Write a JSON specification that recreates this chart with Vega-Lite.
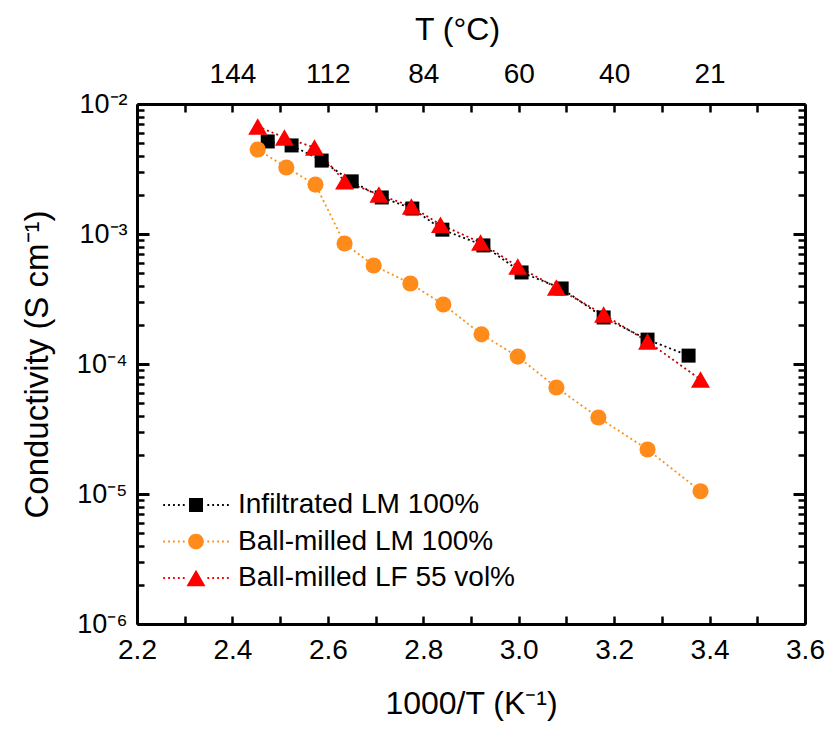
{
  "$schema": "https://vega.github.io/schema/vega-lite/v6.json",
  "width": 668,
  "height": 520,
  "autosize": {"type": "none"},
  "padding": {"left": 137, "top": 104, "right": 28, "bottom": 109},
  "background": "white",
  "config": {
    "view": {"stroke": null},
    "font": "Liberation Sans",
    "axis": {"grid": false, "labelColor": "#000", "titleColor": "#000", "tickColor": "#000", "domainColor": "#000", "titleFontWeight": "normal", "labelFont": "Liberation Sans", "titleFont": "Liberation Sans", "labelOverlap": false, "labelFlush": false}
  },
  "data": {"values": [
    {"s": "Infiltrated LM 100%", "x": 2.474, "y": 5.15e-3},
    {"s": "Infiltrated LM 100%", "x": 2.524, "y": 4.8e-3},
    {"s": "Infiltrated LM 100%", "x": 2.587, "y": 3.67e-3},
    {"s": "Infiltrated LM 100%", "x": 2.650, "y": 2.54e-3},
    {"s": "Infiltrated LM 100%", "x": 2.713, "y": 1.91e-3},
    {"s": "Infiltrated LM 100%", "x": 2.777, "y": 1.57e-3},
    {"s": "Infiltrated LM 100%", "x": 2.840, "y": 1.08e-3},
    {"s": "Infiltrated LM 100%", "x": 2.926, "y": 8.17e-4},
    {"s": "Infiltrated LM 100%", "x": 3.006, "y": 5.06e-4},
    {"s": "Infiltrated LM 100%", "x": 3.090, "y": 3.81e-4},
    {"s": "Infiltrated LM 100%", "x": 3.178, "y": 2.28e-4},
    {"s": "Infiltrated LM 100%", "x": 3.270, "y": 1.54e-4},
    {"s": "Infiltrated LM 100%", "x": 3.356, "y": 1.16e-4},
    {"s": "Ball-milled LM 100%", "x": 2.453, "y": 4.47e-3},
    {"s": "Ball-milled LM 100%", "x": 2.513, "y": 3.25e-3},
    {"s": "Ball-milled LM 100%", "x": 2.574, "y": 2.40e-3},
    {"s": "Ball-milled LM 100%", "x": 2.635, "y": 8.45e-4},
    {"s": "Ball-milled LM 100%", "x": 2.696, "y": 5.73e-4},
    {"s": "Ball-milled LM 100%", "x": 2.773, "y": 4.16e-4},
    {"s": "Ball-milled LM 100%", "x": 2.842, "y": 2.87e-4},
    {"s": "Ball-milled LM 100%", "x": 2.922, "y": 1.69e-4},
    {"s": "Ball-milled LM 100%", "x": 2.998, "y": 1.14e-4},
    {"s": "Ball-milled LM 100%", "x": 3.079, "y": 6.6e-5},
    {"s": "Ball-milled LM 100%", "x": 3.167, "y": 3.88e-5},
    {"s": "Ball-milled LM 100%", "x": 3.270, "y": 2.20e-5},
    {"s": "Ball-milled LM 100%", "x": 3.381, "y": 1.05e-5},
    {"s": "Ball-milled LF 55 vol%", "x": 2.453, "y": 6.71e-3},
    {"s": "Ball-milled LF 55 vol%", "x": 2.509, "y": 5.52e-3},
    {"s": "Ball-milled LF 55 vol%", "x": 2.572, "y": 4.63e-3},
    {"s": "Ball-milled LF 55 vol%", "x": 2.635, "y": 2.54e-3},
    {"s": "Ball-milled LF 55 vol%", "x": 2.707, "y": 2.01e-3},
    {"s": "Ball-milled LF 55 vol%", "x": 2.775, "y": 1.63e-3},
    {"s": "Ball-milled LF 55 vol%", "x": 2.836, "y": 1.18e-3},
    {"s": "Ball-milled LF 55 vol%", "x": 2.920, "y": 8.6e-4},
    {"s": "Ball-milled LF 55 vol%", "x": 2.998, "y": 5.62e-4},
    {"s": "Ball-milled LF 55 vol%", "x": 3.079, "y": 3.87e-4},
    {"s": "Ball-milled LF 55 vol%", "x": 3.178, "y": 2.40e-4},
    {"s": "Ball-milled LF 55 vol%", "x": 3.270, "y": 1.49e-4},
    {"s": "Ball-milled LF 55 vol%", "x": 3.381, "y": 7.6e-5}
  ]},
  "resolve": {"scale": {"x": "shared", "y": "shared"}, "axis": {"x": "independent", "y": "independent"}},
  "layer": [
    {
      "mark": {"type": "line", "strokeDash": [2, 3], "strokeWidth": 1.8},
      "encoding": {
        "x": {"field": "x", "type": "quantitative", "scale": {"domain": [2.2, 3.6], "nice": false, "zero": false},
          "axis": {"orient": "bottom", "values": [2.2,2.3,2.4,2.5,2.6,2.7,2.8,2.9,3.0,3.1,3.2,3.3,3.4,3.5,3.6],
            "labelExpr": "round(datum.value*10) % 2 == 0 ? format(datum.value, '.1f') : ''",
            "tickSize": -8, "tickWidth": 2.5, "domainWidth": 3, "labelFontSize": 28, "labelPadding": 20,
            "title": "1000/T (K⁻¹)", "titleFontSize": 32, "titlePadding": 24}},
        "y": {"field": "y", "type": "quantitative", "scale": {"type": "log", "domain": [1e-6, 1e-2], "nice": false},
          "axis": {"orient": "left", "values": [1e-6, 1e-5, 1e-4, 1e-3, 1e-2],
            "labelExpr": "datum.value == 0.01 ? '10⁻²' : datum.value == 0.001 ? '10⁻³' : datum.value == 0.0001 ? '10⁻⁴' : datum.value == 0.00001 ? '10⁻⁵' : '10⁻⁶'",
            "tickSize": -12, "tickWidth": 3, "domainWidth": 3, "labelFontSize": 27, "labelPadding": 22,
            "title": "Conductivity (S cm⁻¹)", "titleFontSize": 33, "titlePadding": 22}},
        "stroke": {"field": "s", "type": "nominal",
          "scale": {"domain": ["Infiltrated LM 100%", "Ball-milled LM 100%", "Ball-milled LF 55 vol%"], "range": ["#000000", "#f7931e", "#c00000"]},
          "legend": {"title": null, "orient": "none", "legendX": 45, "legendY": 387, "padding": 0,
            "symbolSize": 196, "symbolStrokeWidth": 0, "symbolOpacity": 1, "labelFontSize": 28, "labelFont": "Liberation Sans", "labelColor": "#000",
            "labelOffset": 28, "rowPadding": 8.5, "labelLimit": 400}}
      }
    },
    {
      "transform": [{"filter": "datum.s === 'Infiltrated LM 100%'"}],
      "mark": {"type": "point", "filled": true, "opacity": 1, "strokeWidth": 0, "shape": "square", "size": 196, "color": "#000000"},
      "encoding": {
        "x": {"field": "x", "type": "quantitative",
          "axis": {"orient": "top", "values": [2.2,2.3,2.4,2.5,2.6,2.7,2.8,2.9,3.0,3.1,3.2,3.3,3.4,3.5,3.6],
            "labelExpr": "round(datum.value*10) == 24 ? '144' : round(datum.value*10) == 26 ? '112' : round(datum.value*10) == 28 ? '84' : round(datum.value*10) == 30 ? '60' : round(datum.value*10) == 32 ? '40' : round(datum.value*10) == 34 ? '21' : ''",
            "tickSize": -8, "tickWidth": 2.5, "domainWidth": 3, "labelFontSize": 28, "labelPadding": 24,
            "title": "T (°C)", "titleFontSize": 32, "titlePadding": 14, "titleX": 320}},
        "y": {"field": "y", "type": "quantitative",
          "axis": {"orient": "right", "values": [1e-6, 1e-5, 1e-4, 1e-3, 1e-2], "labels": false,
            "tickSize": -12, "tickWidth": 3, "domainWidth": 3, "title": null}}
      }
    },
    {
      "transform": [{"filter": "datum.s === 'Ball-milled LM 100%'"}],
      "mark": {"type": "point", "filled": true, "opacity": 1, "strokeWidth": 0, "shape": "circle", "size": 260, "color": "#ff8c1a"},
      "encoding": {
        "x": {"field": "x", "type": "quantitative", "axis": null},
        "y": {"field": "y", "type": "quantitative", "axis": null}
      }
    },
    {
      "transform": [{"filter": "datum.s === 'Ball-milled LF 55 vol%'"}],
      "mark": {"type": "point", "filled": true, "opacity": 1, "strokeWidth": 0, "shape": "triangle-up", "size": 361, "color": "#ff0000"},
      "encoding": {
        "x": {"field": "x", "type": "quantitative", "axis": null},
        "y": {"field": "y", "type": "quantitative", "axis": null}
      }
    },
    {
      "transform": [{"filter": "false"}],
      "mark": {"type": "point", "filled": true, "opacity": 1, "strokeWidth": 0},
      "encoding": {
        "x": {"field": "x", "type": "quantitative", "axis": null},
        "y": {"field": "y", "type": "quantitative", "axis": null},
        "color": {"field": "s", "type": "nominal",
          "scale": {"domain": ["Infiltrated LM 100%", "Ball-milled LM 100%", "Ball-milled LF 55 vol%"], "range": ["#000000", "#ff8c1a", "#ff0000"]}},
        "shape": {"field": "s", "type": "nominal",
          "scale": {"domain": ["Infiltrated LM 100%", "Ball-milled LM 100%", "Ball-milled LF 55 vol%"],
            "range": [
              "M-1,-1H1V1H-1ZM-4.68,-0.13h0.26v0.26h-0.26ZM-3.98,-0.13h0.26v0.26h-0.26ZM-3.28,-0.13h0.26v0.26h-0.26ZM-2.58,-0.13h0.26v0.26h-0.26ZM-1.88,-0.13h0.26v0.26h-0.26ZM1.62,-0.13h0.26v0.26h-0.26ZM2.32,-0.13h0.26v0.26h-0.26ZM3.02,-0.13h0.26v0.26h-0.26ZM3.72,-0.13h0.26v0.26h-0.26ZM4.42,-0.13h0.26v0.26h-0.26Z",
              "M1.12,0A1.12,1.12,0,1,1,-1.12,0A1.12,1.12,0,1,1,1.12,0ZM-4.68,-0.13h0.26v0.26h-0.26ZM-3.98,-0.13h0.26v0.26h-0.26ZM-3.28,-0.13h0.26v0.26h-0.26ZM-2.58,-0.13h0.26v0.26h-0.26ZM-1.88,-0.13h0.26v0.26h-0.26ZM1.62,-0.13h0.26v0.26h-0.26ZM2.32,-0.13h0.26v0.26h-0.26ZM3.02,-0.13h0.26v0.26h-0.26ZM3.72,-0.13h0.26v0.26h-0.26ZM4.42,-0.13h0.26v0.26h-0.26Z",
              "M0,-1.19L1.36,1.19L-1.36,1.19ZM-4.68,-0.13h0.26v0.26h-0.26ZM-3.98,-0.13h0.26v0.26h-0.26ZM-3.28,-0.13h0.26v0.26h-0.26ZM-2.58,-0.13h0.26v0.26h-0.26ZM-1.88,-0.13h0.26v0.26h-0.26ZM1.62,-0.13h0.26v0.26h-0.26ZM2.32,-0.13h0.26v0.26h-0.26ZM3.02,-0.13h0.26v0.26h-0.26ZM3.72,-0.13h0.26v0.26h-0.26ZM4.42,-0.13h0.26v0.26h-0.26Z"
            ]}}
      }
    },
    {
      "mark": {"type": "point", "opacity": 0},
      "encoding": {
        "x": {"field": "x", "type": "quantitative", "axis": null},
        "y": {"field": "y", "type": "quantitative",
          "axis": {"orient": "left", "values": [2e-6,3e-6,4e-6,5e-6,6e-6,7e-6,8e-6,9e-6,2e-5,3e-5,4e-5,5e-5,6e-5,7e-5,8e-5,9e-5,2e-4,3e-4,4e-4,5e-4,6e-4,7e-4,8e-4,9e-4,2e-3,3e-3,4e-3,5e-3,6e-3,7e-3,8e-3,9e-3],
            "labels": false, "domain": false, "tickSize": -7, "tickWidth": 2.5, "title": null}}
      }
    },
    {
      "mark": {"type": "point", "opacity": 0},
      "encoding": {
        "x": {"field": "x", "type": "quantitative", "axis": null},
        "y": {"field": "y", "type": "quantitative",
          "axis": {"orient": "right", "values": [2e-6,3e-6,4e-6,5e-6,6e-6,7e-6,8e-6,9e-6,2e-5,3e-5,4e-5,5e-5,6e-5,7e-5,8e-5,9e-5,2e-4,3e-4,4e-4,5e-4,6e-4,7e-4,8e-4,9e-4,2e-3,3e-3,4e-3,5e-3,6e-3,7e-3,8e-3,9e-3],
            "labels": false, "domain": false, "tickSize": -7, "tickWidth": 2.5, "title": null}}
      }
    }
  ]
}
